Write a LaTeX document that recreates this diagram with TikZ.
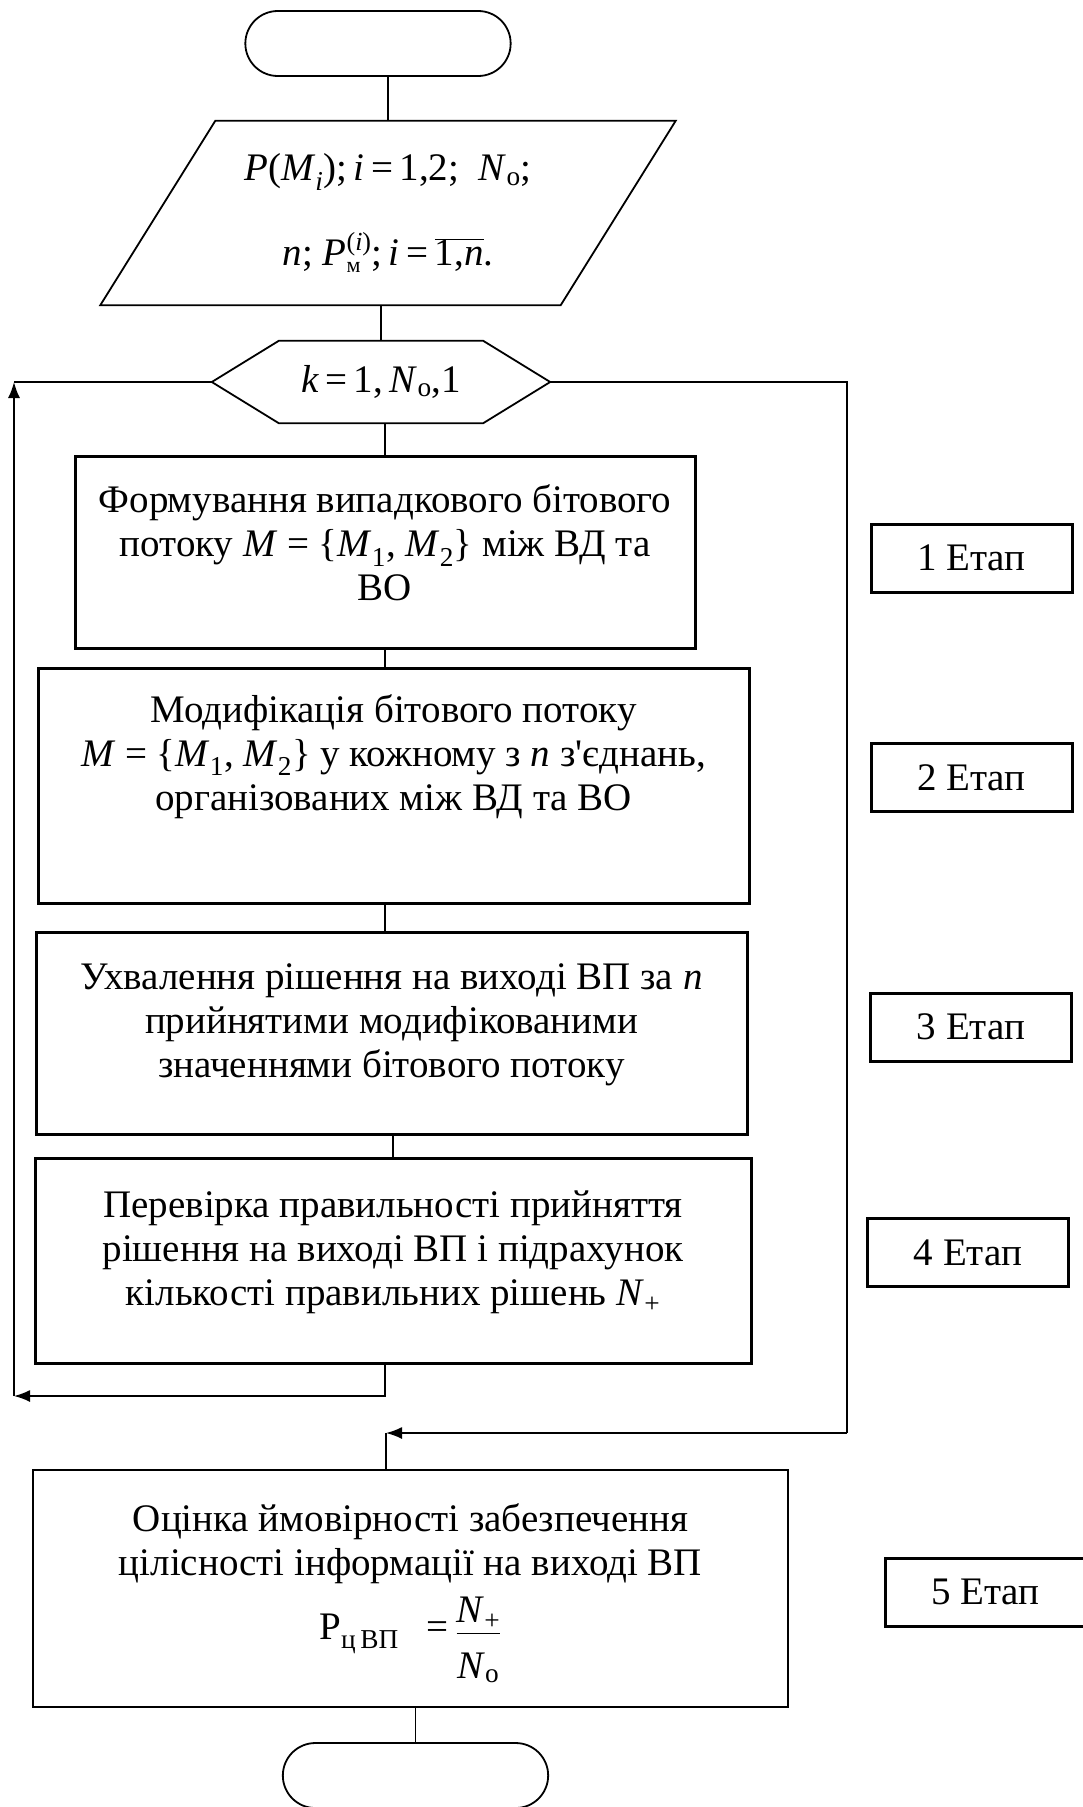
\documentclass[tikz,border=0pt]{standalone}
\usepackage{fontspec}
\setmainfont{Liberation Serif}[Ligatures=TeXOff]
\usetikzlibrary{shapes.misc,arrows.meta}
\newcommand{\vi}[1]{\textit{#1}}

\begin{document}
\begin{tikzpicture}[x=1pt,y=-1pt,
  every node/.style={font=\fontsize{39}{44}\selectfont},
  flow/.style={line width=1.6pt},
  arr/.style={flow,-{Latex[length=16pt,width=12pt]}},
  term/.style={draw,line width=1.8pt,rounded rectangle,minimum width=272pt,minimum height=65pt},
  proc/.style={draw,line width=3pt,align=center,inner sep=0pt},
  stagebox/.style={draw,line width=3pt,minimum width=201pt,minimum height=68pt,inner sep=0pt}]
\useasboundingbox (0,0) rectangle (1082,1807);

%%% блоки алгоритму
\node[term] (start) at (378,43.5) {};
\node[minimum width=460pt,minimum height=184pt,align=center,inner sep=0pt] (data) at (388,213)
  {\vi{P}(\vi{M}\textsubscript{\vi{i}});\,\vi{i}\,=\,1,2;\ \ \vi{N}\textsubscript{о};\\[41pt]
   \vi{n}; $\hbox{\vi{P}}^{\hbox{\fontsize{26}{26}\selectfont(\vi{i})}}_{\hbox{\fontsize{22}{22}\selectfont м}}$;\,\vi{i}\,=\,$\overline{\hbox{1,\vi{n}}}$.};
\draw[line width=1.8pt] ([xshift=57.5pt]data.north west) -- ([xshift=57.5pt]data.north east)
  -- ([xshift=-57.5pt]data.south east) -- ([xshift=-57.5pt]data.south west) -- cycle;
\node[minimum width=338pt,minimum height=82pt,inner sep=0pt] (loop) at (381,382)
  {\vi{k}\,=\,1,\,\vi{N}\textsubscript{о},1};
\draw[line width=1.8pt] (loop.west) -- ([xshift=67pt]loop.north west) -- ([xshift=-67pt]loop.north east)
  -- (loop.east) -- ([xshift=-67pt]loop.south east) -- ([xshift=67pt]loop.south west) -- cycle;

\node[proc,minimum width=620pt,minimum height=192pt,text depth=18pt] (s1) at (385,552)
  {Формування випадкового бітового\\ потоку \vi{M} = \{\vi{M}\textsubscript{1}, \vi{M}\textsubscript{2}\} між ВД та\\ ВО};
\node[proc,minimum width=711pt,minimum height=235pt,text depth=66pt] (s2) at (393.5,785.5)
  {Модифікація бітового потоку\\ \vi{M} = \{\vi{M}\textsubscript{1}, \vi{M}\textsubscript{2}\} у кожному з \vi{n} з'єднань,\\ організованих між ВД та ВО};
\node[proc,minimum width=711pt,minimum height=202pt,text depth=24pt] (s3) at (391.5,1033)
  {Ухвалення рішення на виході ВП за \vi{n}\\ прийнятими модифікованими\\ значеннями бітового потоку};
\node[proc,minimum width=716pt,minimum height=205pt,text depth=24pt] (s4) at (393,1260.5)
  {Перевірка правильності прийняття\\ рішення на виході ВП і підрахунок\\ кількості правильних рішень \vi{N}\textsubscript{+}};
\node[proc,line width=2pt,minimum width=755pt,minimum height=237pt,text depth=34pt] (s5) at (410.5,1588.5)
  {Оцінка ймовірності забезпечення\\ цілісності інформації на виході ВП\\[12pt]
   Р\textsubscript{ц\,ВП}\hspace{28pt}=\,$\displaystyle\frac{\hbox{\vi{N}\textsubscript{+}}\rule[-9pt]{0pt}{9pt}}{\rule{0pt}{44pt}\hbox{\vi{N}\textsubscript{о}}}$};
\node[term] (end) at (415.5,1775.5) {};

%%% етапи
\node[stagebox] (st1) at (971.5,558) {1 Етап};
\node[stagebox] (st2) at (971.5,777.5) {2 Етап};
\node[stagebox] (st3) at (971,1027) {3 Етап};
\node[stagebox] (st4) at (968,1252.5) {4 Етап};
\node[stagebox] (st5) at (985.5,1592) {5 Етап};

%%% з'єднання
\draw[flow] (data.north) -- (data.north |- start.south);
\draw[flow] (loop.north) -- (loop.north |- data.south);
\draw[flow] (s1.north) -- (s1.north |- loop.south);
\draw[flow] (s1.south) -- (s1.south |- s2.north);
\draw[flow] (s1.south |- s2.south) -- (s1.south |- s3.north);
\draw[flow] (s4.north) -- (s4.north |- s3.south);

%%% цикл
\coordinate (backB) at (14,1396);
\coordinate (backT) at (backB |- loop.west);
\draw[arr] (s1.south |- s4.south) |- (backB);
\draw[arr] (backB) -- (backT);
\draw[flow] (backT) -- (loop.west);
\coordinate (exitB) at (847,1433);
\coordinate (join) at (386,1433);
\draw[flow] (loop.east) -| (exitB);
\draw[arr] (exitB) -- (join);
\draw[flow] (join) -- (join |- s5.north);
\draw[flow] (end.north) -- (end.north |- s5.south);
\end{tikzpicture}
\end{document}
